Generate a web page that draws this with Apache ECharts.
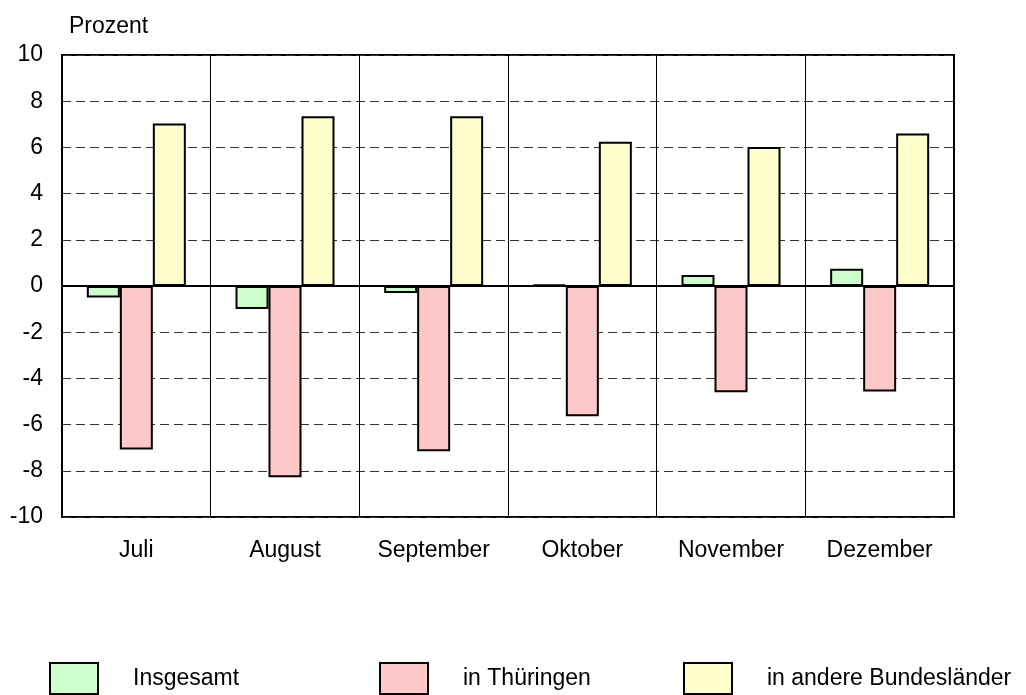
<!DOCTYPE html>
<html>
<head>
<meta charset="utf-8">
<script src="https://cdn.jsdelivr.net/npm/echarts@6/dist/echarts.min.js"></script>
<style>html,body{margin:0;padding:0;background:#fff;}#c{width:1026px;height:695px;}</style>
</head>
<body>
<div id="c"></div>
<script>
var categories = ['Juli', 'August', 'September', 'Oktober', 'November', 'Dezember'];
var insgesamt = [-0.5, -1.0, -0.3, 0.06, 0.48, 0.75];
var thueringen = [-7.08, -8.28, -7.15, -5.64, -4.6, -4.57];
var andere = [7.03, 7.35, 7.35, 6.25, 6.02, 6.6];
var seriesNames = ['Insgesamt', 'in Thüringen', 'in andere Bundesländer'];
var yTicks = { min: -10, max: 10, interval: 2 };

var FONT = "'Liberation Sans', Arial, sans-serif";
var FS = 23;
var chart = echarts.init(document.getElementById('c'), null, { renderer: 'canvas' });

function legendAt(name, left) {
  return {
    show: true, data: [name], left: left, top: 662, padding: 0,
    itemWidth: 48, itemHeight: 31, icon: 'rect', selectedMode: false,
    textStyle: { fontFamily: FONT, fontSize: FS, color: '#000', padding: [0, 0, 0, 30] }
  };
}

function barSeries(name, data, color) {
  return {
    name: name, type: 'bar', data: data, barWidth: 33, barGap: '0%',
    itemStyle: { color: color, borderColor: '#000', borderWidth: 2 },
    emphasis: { disabled: true }
  };
}

chart.setOption({
  animation: false,
  backgroundColor: '#fff',
  textStyle: { fontFamily: FONT },
  title: {
    text: 'Prozent', left: 64, top: 10,
    textStyle: { fontFamily: FONT, fontSize: FS, fontWeight: 'normal', color: '#000' }
  },
  legend: [
    legendAt(seriesNames[0], 49),
    legendAt(seriesNames[1], 379),
    legendAt(seriesNames[2], 683)
  ],
  grid: {
    left: 62, right: 72, top: 55, bottom: 178,
    show: true, borderColor: '#000', borderWidth: 2, backgroundColor: 'transparent'
  },
  xAxis: {
    type: 'category', data: categories, boundaryGap: true,
    axisLine: { show: true, onZero: true, lineStyle: { color: '#000', width: 2 } },
    axisTick: { show: false },
    splitLine: { show: true, lineStyle: { color: '#000', width: 1 } },
    axisLabel: { fontFamily: FONT, fontSize: FS, color: '#000', margin: 22, interval: 0 }
  },
  yAxis: {
    type: 'value', min: yTicks.min, max: yTicks.max, interval: yTicks.interval,
    axisLine: { show: true, lineStyle: { color: '#000', width: 2 } },
    axisTick: { show: false },
    splitLine: { show: true, lineStyle: { color: '#333', width: 1, type: [9, 5] } },
    axisLabel: { fontFamily: FONT, fontSize: FS, color: '#000', margin: 19 }
  },
  series: [
    barSeries(seriesNames[0], insgesamt, '#CCFFCC'),
    barSeries(seriesNames[1], thueringen, '#FFC8C8'),
    barSeries(seriesNames[2], andere, '#FFFFCC')
  ]
});
</script>
</body>
</html>
